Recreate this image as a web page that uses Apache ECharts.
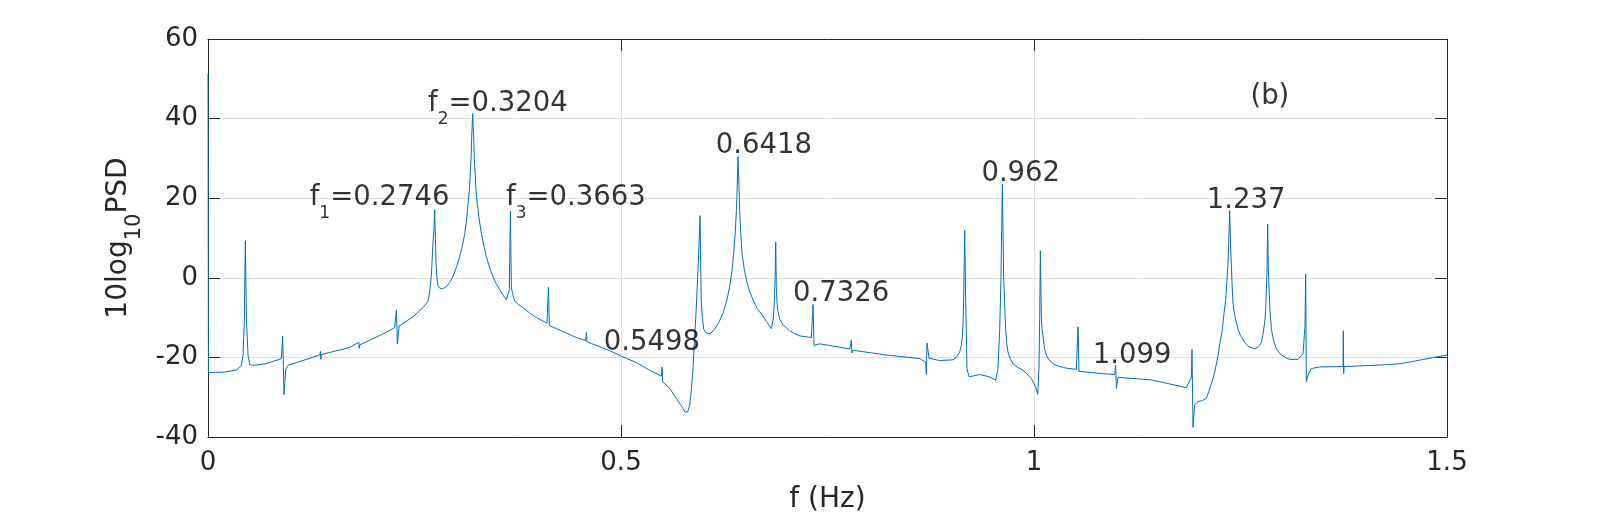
<!DOCTYPE html>
<html>
<head>
<meta charset="utf-8">
<script src="https://cdn.jsdelivr.net/npm/echarts@6/dist/echarts.min.js"></script>
<style>
html,body{margin:0;padding:0;background:#fff;}
#chart{width:1600px;height:519px;}
</style>
</head>
<body>
<div id="chart"></div>
<script>
// Frequency (Hz) and PSD (dB)
const freqHz = [
0, 0.0005, 0.02, 0.0344, 0.0404, 0.0424, 0.044, 0.0452, 0.0465, 0.0485,
0.0505, 0.0545, 0.07, 0.0888, 0.0904, 0.092, 0.0941, 0.0969, 0.1352, 0.1362,
0.1366, 0.137, 0.1715, 0.1826, 0.183, 0.1834, 0.2119, 0.226, 0.2281, 0.2293,
0.2313, 0.2482, 0.2603, 0.2664, 0.268, 0.2696, 0.2708, 0.2717, 0.2726, 0.2735,
0.2744, 0.2753, 0.2762, 0.2773, 0.2785, 0.2805, 0.2822, 0.2838, 0.286, 0.2886,
0.2925, 0.2966, 0.3005, 0.3047, 0.308, 0.3108, 0.313, 0.3148, 0.3165, 0.3177,
0.3185, 0.3192, 0.3198, 0.3204, 0.321, 0.3217, 0.3224, 0.3233, 0.3245, 0.3261,
0.3285, 0.331, 0.334, 0.337, 0.341, 0.345, 0.349, 0.3532, 0.357, 0.3612,
0.3632, 0.3648, 0.3661, 0.3673, 0.3693, 0.3713, 0.375, 0.3814, 0.389, 0.3976,
0.4104, 0.4121, 0.4133, 0.446, 0.4573, 0.4581, 0.4589, 0.4863, 0.5005, 0.5186,
0.5347, 0.5489, 0.5497, 0.5505, 0.559, 0.567, 0.5751, 0.5775, 0.5792, 0.581,
0.5832, 0.585, 0.5872, 0.5888, 0.5904, 0.5918, 0.5932, 0.5945, 0.5957, 0.5965,
0.5973, 0.5985, 0.6001, 0.6025, 0.6053, 0.609, 0.6134, 0.6185, 0.6235, 0.628,
0.6316, 0.6345, 0.6364, 0.6382, 0.6397, 0.6408, 0.6417, 0.6428, 0.6437, 0.645,
0.6465, 0.649, 0.6518, 0.6555, 0.6598, 0.665, 0.6719, 0.676, 0.68, 0.6821,
0.6845, 0.6855, 0.6866, 0.6873, 0.688, 0.6889, 0.69, 0.6921, 0.696, 0.7042,
0.71, 0.7163, 0.7305, 0.7325, 0.7337, 0.7405, 0.7526, 0.7769, 0.7789, 0.7795,
0.7809, 0.8213, 0.8616, 0.8689, 0.8697, 0.8705, 0.8729, 0.8858, 0.9019, 0.906,
0.91, 0.912, 0.9133, 0.9142, 0.9149, 0.9161, 0.9173, 0.9189, 0.9213, 0.9342,
0.9463, 0.9536, 0.9564, 0.9585, 0.96, 0.9617, 0.9633, 0.9645, 0.9657, 0.967,
0.9685, 0.971, 0.9746, 0.98, 0.9867, 0.9968, 1.002, 1.0045, 1.006, 1.0069,
1.0077, 1.0089, 1.0098, 1.0109, 1.0125, 1.015, 1.018, 1.023, 1.03, 1.0392,
1.0513, 1.0533, 1.0545, 1.0835, 1.0977, 1.0989, 1.0997, 1.1017, 1.1038, 1.144,
1.1461, 1.1475, 1.1845, 1.1905, 1.1913, 1.1925, 1.1945, 1.1986, 1.204, 1.2087,
1.212, 1.2167, 1.219, 1.2228, 1.225, 1.2281, 1.23, 1.2321, 1.2335, 1.2349,
1.2358, 1.2369, 1.2378, 1.2389, 1.2398, 1.2409, 1.243, 1.247, 1.25, 1.2551,
1.26, 1.2672, 1.272, 1.2753, 1.277, 1.2793, 1.2805, 1.2814, 1.2822, 1.2829,
1.2836, 1.2846, 1.2858, 1.2874, 1.29, 1.2935, 1.299, 1.3056, 1.31, 1.3197,
1.3257, 1.3281, 1.3289, 1.3297, 1.3317, 1.3358, 1.3459, 1.3741, 1.3745, 1.3749,
1.3753, 1.4206, 1.4215, 1.4225, 1.4427, 1.4589, 1.5
];
const psdDb = [
51.2, -23.8, -23.7, -23.2, -22.0, -19.5, -10.4, 9.3, -10.4, -19.5,
-21.8, -22.0, -21.6, -20.3, -14.6, -29.3, -23.0, -22.0, -19.4, -18.5,
-20.5, -19.3, -17.5, -16.2, -17.7, -16.9, -14.1, -12.5, -8.1, -16.6,
-12.1, -9.8, -7.5, -5.9, -4.0, -1.3, 2.0, 6.1, 9.5, 12.0,
17.1, 10.0, 3.0, -0.5, -2.0, -2.6, -3.0, -2.8, -2.5, -2.2,
-1.2, 0.3, 2.5, 5.3, 8.0, 11.1, 14.5, 18.5, 22.0, 26.8,
30.0, 35.1, 38.0, 41.3, 38.0, 35.1, 30.0, 26.8, 22.0, 18.5,
14.5, 11.1, 8.0, 5.3, 2.5, 0.3, -1.5, -3.0, -4.3, -5.5,
-5.9, -3.0, 16.7, -2.5, -4.5, -5.8, -6.6, -7.5, -8.8, -10.0,
-11.4, -2.4, -12.0, -15.0, -15.8, -13.7, -16.1, -18.3, -19.7, -21.3,
-23.2, -24.7, -22.4, -26.1, -27.8, -30.3, -32.8, -33.8, -34.0, -33.6,
-31.9, -28.5, -22.8, -16.5, -10.4, -4.5, 2.0, 8.5, 15.6, 2.0,
-6.3, -10.0, -12.9, -13.7, -14.1, -13.9, -12.9, -11.2, -8.8, -5.8,
-2.2, 2.0, 6.1, 11.0, 16.9, 23.5, 30.5, 23.5, 16.9, 11.0,
6.1, 2.5, -0.5, -3.3, -5.5, -7.8, -9.6, -11.0, -12.1, -12.8,
-10.0, -6.5, 0.0, 9.0, -2.0, -6.3, -8.5, -10.4, -11.8, -13.3,
-14.0, -14.6, -15.0, -6.7, -17.0, -16.6, -17.0, -17.9, -15.6, -18.9,
-18.2, -19.4, -20.3, -21.2, -24.3, -16.4, -20.2, -20.8, -20.6, -20.0,
-18.7, -17.0, -14.6, -11.0, -4.6, 11.9, -6.0, -22.8, -24.9, -24.3,
-24.9, -25.7, -22.8, -12.9, 0.0, 23.5, 0.0, -7.0, -12.9, -16.5,
-18.7, -20.2, -21.6, -22.5, -23.2, -25.3, -27.4, -29.3, -22.8, -10.0,
6.8, -10.0, -13.0, -14.6, -17.5, -19.5, -20.6, -21.6, -22.2, -22.7,
-23.0, -12.3, -23.5, -24.1, -24.3, -22.0, -27.8, -25.0, -24.9, -25.7,
-25.4, -25.9, -27.6, -25.0, -18.0, -37.6, -31.9, -31.1, -30.8, -30.3,
-28.3, -25.3, -23.5, -19.5, -16.5, -12.9, -9.0, -5.5, -1.0, 3.6,
9.0, 16.9, 9.0, 3.6, -1.5, -6.3, -9.5, -12.9, -14.5, -16.2,
-17.3, -17.9, -17.3, -16.2, -14.5, -11.3, -8.0, -3.0, 3.0, 13.5,
3.0, -3.0, -8.5, -12.9, -15.8, -17.9, -19.3, -20.2, -20.5, -20.5,
-19.1, -12.0, 0.9, -26.1, -24.5, -22.8, -22.4, -22.3, -13.3, -24.1,
-22.3, -21.9, -22.4, -21.9, -21.6, -21.0, -19.4
];

// Peak annotations (text, anchor in data coordinates)
const annoText = ['f_1=0.2746', 'f_2=0.3204', 'f_3=0.3663', '0.5498', '0.6418', '0.7326', '0.962', '1.099', '1.237', '(b)'];
const annoX = [0.1231, 0.2663, 0.3608, 0.4791, 0.6147, 0.7082, 0.9363, 1.0711, 1.2091, 1.262];
const annoY = [20.0, 43.7, 20.0, -16.4, 33.1, -4.1, 26.0, -19.7, 19.3, 45.4];

const xTicks = [0, 0.5, 1, 1.5];
const yTicks = [-40, -20, 0, 20, 40, 60];

const FONT = 'DejaVu Sans';
const AX = '#262626';

const lineData = freqHz.map((f, i) => [f, psdDb[i]]);
const annoData = annoText.map((t, i) => [annoX[i], annoY[i], t]);

function richLabel(t) {
  const m = t.match(/^([^_]*)_(.)(.*)$/);
  if (m) return '{m|' + m[1] + '}{s|' + m[2] + '}{m|' + m[3] + '}';
  return '{m|' + t + '}';
}

const xStep = xTicks[1] - xTicks[0];
const yStep = yTicks[1] - yTicks[0];

function baseAxis(min, max, step) {
  return {
    type: 'value', min: min, max: max, interval: step,
    axisLine: { show: true, onZero: false, lineStyle: { color: AX, width: 1 } },
    axisTick: { show: true, inside: true, length: 12, lineStyle: { color: AX, width: 1 } },
    splitLine: { show: false }
  };
}

const chart = echarts.init(document.getElementById('chart'), null, { renderer: 'canvas' });
const option = {
  animation: false,
  backgroundColor: '#ffffff',
  grid: { left: 208, top: 39, width: 1239, height: 403, containLabel: false },
  xAxis: [
    Object.assign(baseAxis(xTicks[0], xTicks[xTicks.length - 1], xStep), {
      position: 'bottom',
      name: 'f (Hz)', nameLocation: 'middle', nameGap: 49,
      nameTextStyle: { fontFamily: FONT, fontSize: 28, color: AX },
      axisLabel: { show: true, fontFamily: FONT, fontSize: 26, color: AX, margin: 13 },
      splitLine: { show: true, lineStyle: { color: '#dfdfdf', width: 1 } }
    }),
    Object.assign(baseAxis(xTicks[0], xTicks[xTicks.length - 1], xStep), {
      position: 'top', axisLabel: { show: false }
    })
  ],
  yAxis: [
    Object.assign(baseAxis(yTicks[0], yTicks[yTicks.length - 1], yStep), {
      position: 'left',
      name: '{m|10log}{s|10}{m|PSD}', nameLocation: 'middle', nameGap: 57,
      nameTextStyle: {
        fontFamily: FONT, fontSize: 28, color: AX,
        rich: {
          m: { fontFamily: FONT, fontSize: 28, color: AX },
          s: { fontFamily: FONT, fontSize: 21, color: AX, padding: [30, 0, 0, 0] }
        }
      },
      axisLabel: { show: true, fontFamily: FONT, fontSize: 26, color: AX, margin: 10 },
      splitLine: { show: true, lineStyle: { color: '#dfdfdf', width: 1 } }
    }),
    Object.assign(baseAxis(yTicks[0], yTicks[yTicks.length - 1], yStep), {
      position: 'right', axisLabel: { show: false }
    })
  ],
  series: [
    {
      type: 'line', data: lineData, xAxisIndex: 0, yAxisIndex: 0,
      symbol: 'none', showSymbol: false, smooth: false,
      lineStyle: { color: '#0072BD', width: 1 },
      emphasis: { disabled: true }, z: 2
    },
    {
      type: 'scatter', data: annoData, xAxisIndex: 0, yAxisIndex: 0,
      symbolSize: 0, silent: true, z: 3,
      label: {
        show: true, position: [0, 0], align: 'left', verticalAlign: 'middle', color: '#000000',
        formatter: p => richLabel(p.data[2]),
        rich: {
          m: { fontFamily: FONT, fontSize: 27.5, color: '#000000' },
          s: { fontFamily: FONT, fontSize: 17, color: '#000000', padding: [31, 0, 0, 0] }
        }
      }
    }
  ]
};
chart.setOption(option);
</script>
</body>
</html>
